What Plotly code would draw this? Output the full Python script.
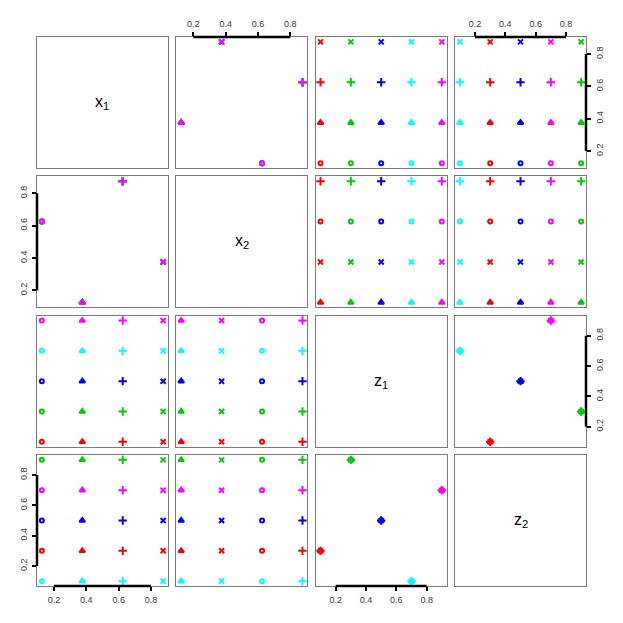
import plotly.graph_objects as go
from plotly.subplots import make_subplots

# design points
var_labels = ['x<sub>1</sub>', 'x<sub>2</sub>', 'z<sub>1</sub>', 'z<sub>2</sub>']
x1 = [0.125, 0.375, 0.625, 0.875]
x2 = [0.625, 0.125, 0.875, 0.375]
z1 = [0.1, 0.3, 0.5, 0.7, 0.9]
z2 = [0.3, 0.9, 0.5, 0.1, 0.7]
x_symbols = ['circle-open', 'triangle-up', 'cross-thin', 'x-thin']
z_colors = ['#FF0000', '#00CD00', '#0000FF', '#00FFFF', '#FF00FF']
tick_vals = [0.2, 0.4, 0.6, 0.8]
tick_text = ['0.2', '0.4', '0.6', '0.8']

# crossed design: every x run combined with every z run
data = {'x1': [], 'x2': [], 'z1': [], 'z2': [], 'sym': [], 'col': []}
for j in range(len(z1)):
    for i in range(len(x1)):
        data['x1'].append(x1[i])
        data['x2'].append(x2[i])
        data['z1'].append(z1[j])
        data['z2'].append(z2[j])
        data['sym'].append(x_symbols[i])
        data['col'].append(z_colors[j])

names = ['x1', 'x2', 'z1', 'z2']
ranges = {'x1': [0.095, 0.905], 'x2': [0.095, 0.905],
          'z1': [0.068, 0.932], 'z2': [0.068, 0.932]}
sym_size = {'circle-open': 4, 'triangle-up': 5, 'cross-thin': 6, 'x-thin': 5}

fig = make_subplots(rows=4, cols=4, horizontal_spacing=0.0152, vertical_spacing=0.0152)

box = dict(showline=True, linecolor='#7a7a7a', linewidth=1.3, mirror=True,
           showgrid=False, zeroline=False, showticklabels=False, ticks='',
           automargin=False)
tickfont = dict(family='Liberation Sans, Arial', size=9, color='#3a3a3a')

for r in range(1, 5):
    for c in range(1, 5):
        k = (r - 1) * 4 + c
        xa = 'x' if k == 1 else f'x{k}'
        ya = 'y' if k == 1 else f'y{k}'
        xv, yv = names[c - 1], names[r - 1]
        if r == c:
            fig.add_trace(go.Scatter(x=[], y=[], mode='markers', showlegend=False), row=r, col=c)
            fig.add_annotation(text=var_labels[r - 1], xref=f'{xa} domain', yref=f'{ya} domain',
                               x=0.5, y=0.5, showarrow=False,
                               font=dict(family='Liberation Sans, Arial', size=16, color='black'))
        else:
            fig.add_trace(go.Scatter(
                x=data[xv], y=data[yv], mode='markers', showlegend=False,
                marker=dict(symbol=data['sym'], color=data['col'], opacity=1,
                            size=[sym_size[s] for s in data['sym']],
                            line=dict(color=data['col'], width=2)),
            ), row=r, col=c)
        fig.update_xaxes(box, range=ranges[xv], row=r, col=c)
        fig.update_yaxes(box, range=ranges[yv], row=r, col=c)

        axis_style = dict(showticklabels=True, ticks='outside', ticklen=4, tickwidth=2,
                          tickcolor='black', tickvals=tick_vals, ticktext=tick_text,
                          tickfont=tickfont, ticklabelstandoff=1)
        # x axes: top on row 1 (cols 2, 4), bottom on row 4 (cols 1, 3)
        if (r == 1 and c in (2, 4)) or (r == 4 and c in (1, 3)):
            side = 'top' if r == 1 else 'bottom'
            fig.update_xaxes(axis_style, side=side, row=r, col=c)
            fig.add_shape(type='line', xref=xa, yref=f'{ya} domain',
                          x0=tick_vals[0], x1=tick_vals[-1],
                          y0=1 if side == 'top' else 0, y1=1 if side == 'top' else 0,
                          line=dict(color='black', width=2.5))
        # y axes: left on col 1 (rows 2, 4), right on col 4 (rows 1, 3)
        if (c == 1 and r in (2, 4)) or (c == 4 and r in (1, 3)):
            side = 'left' if c == 1 else 'right'
            fig.update_yaxes(axis_style, side=side, tickangle=-90, row=r, col=c)
            fig.add_shape(type='line', xref=f'{xa} domain', yref=ya,
                          x0=0 if side == 'left' else 1, x1=0 if side == 'left' else 1,
                          y0=tick_vals[0], y1=tick_vals[-1],
                          line=dict(color='black', width=2.5))

fig.update_layout(
    width=623, height=623,
    margin=dict(l=29, r=45, t=29, b=45, autoexpand=False),
    plot_bgcolor='white', paper_bgcolor='white',
    font=dict(family='Liberation Sans, Arial'),
)

fig.write_html('out.html')
